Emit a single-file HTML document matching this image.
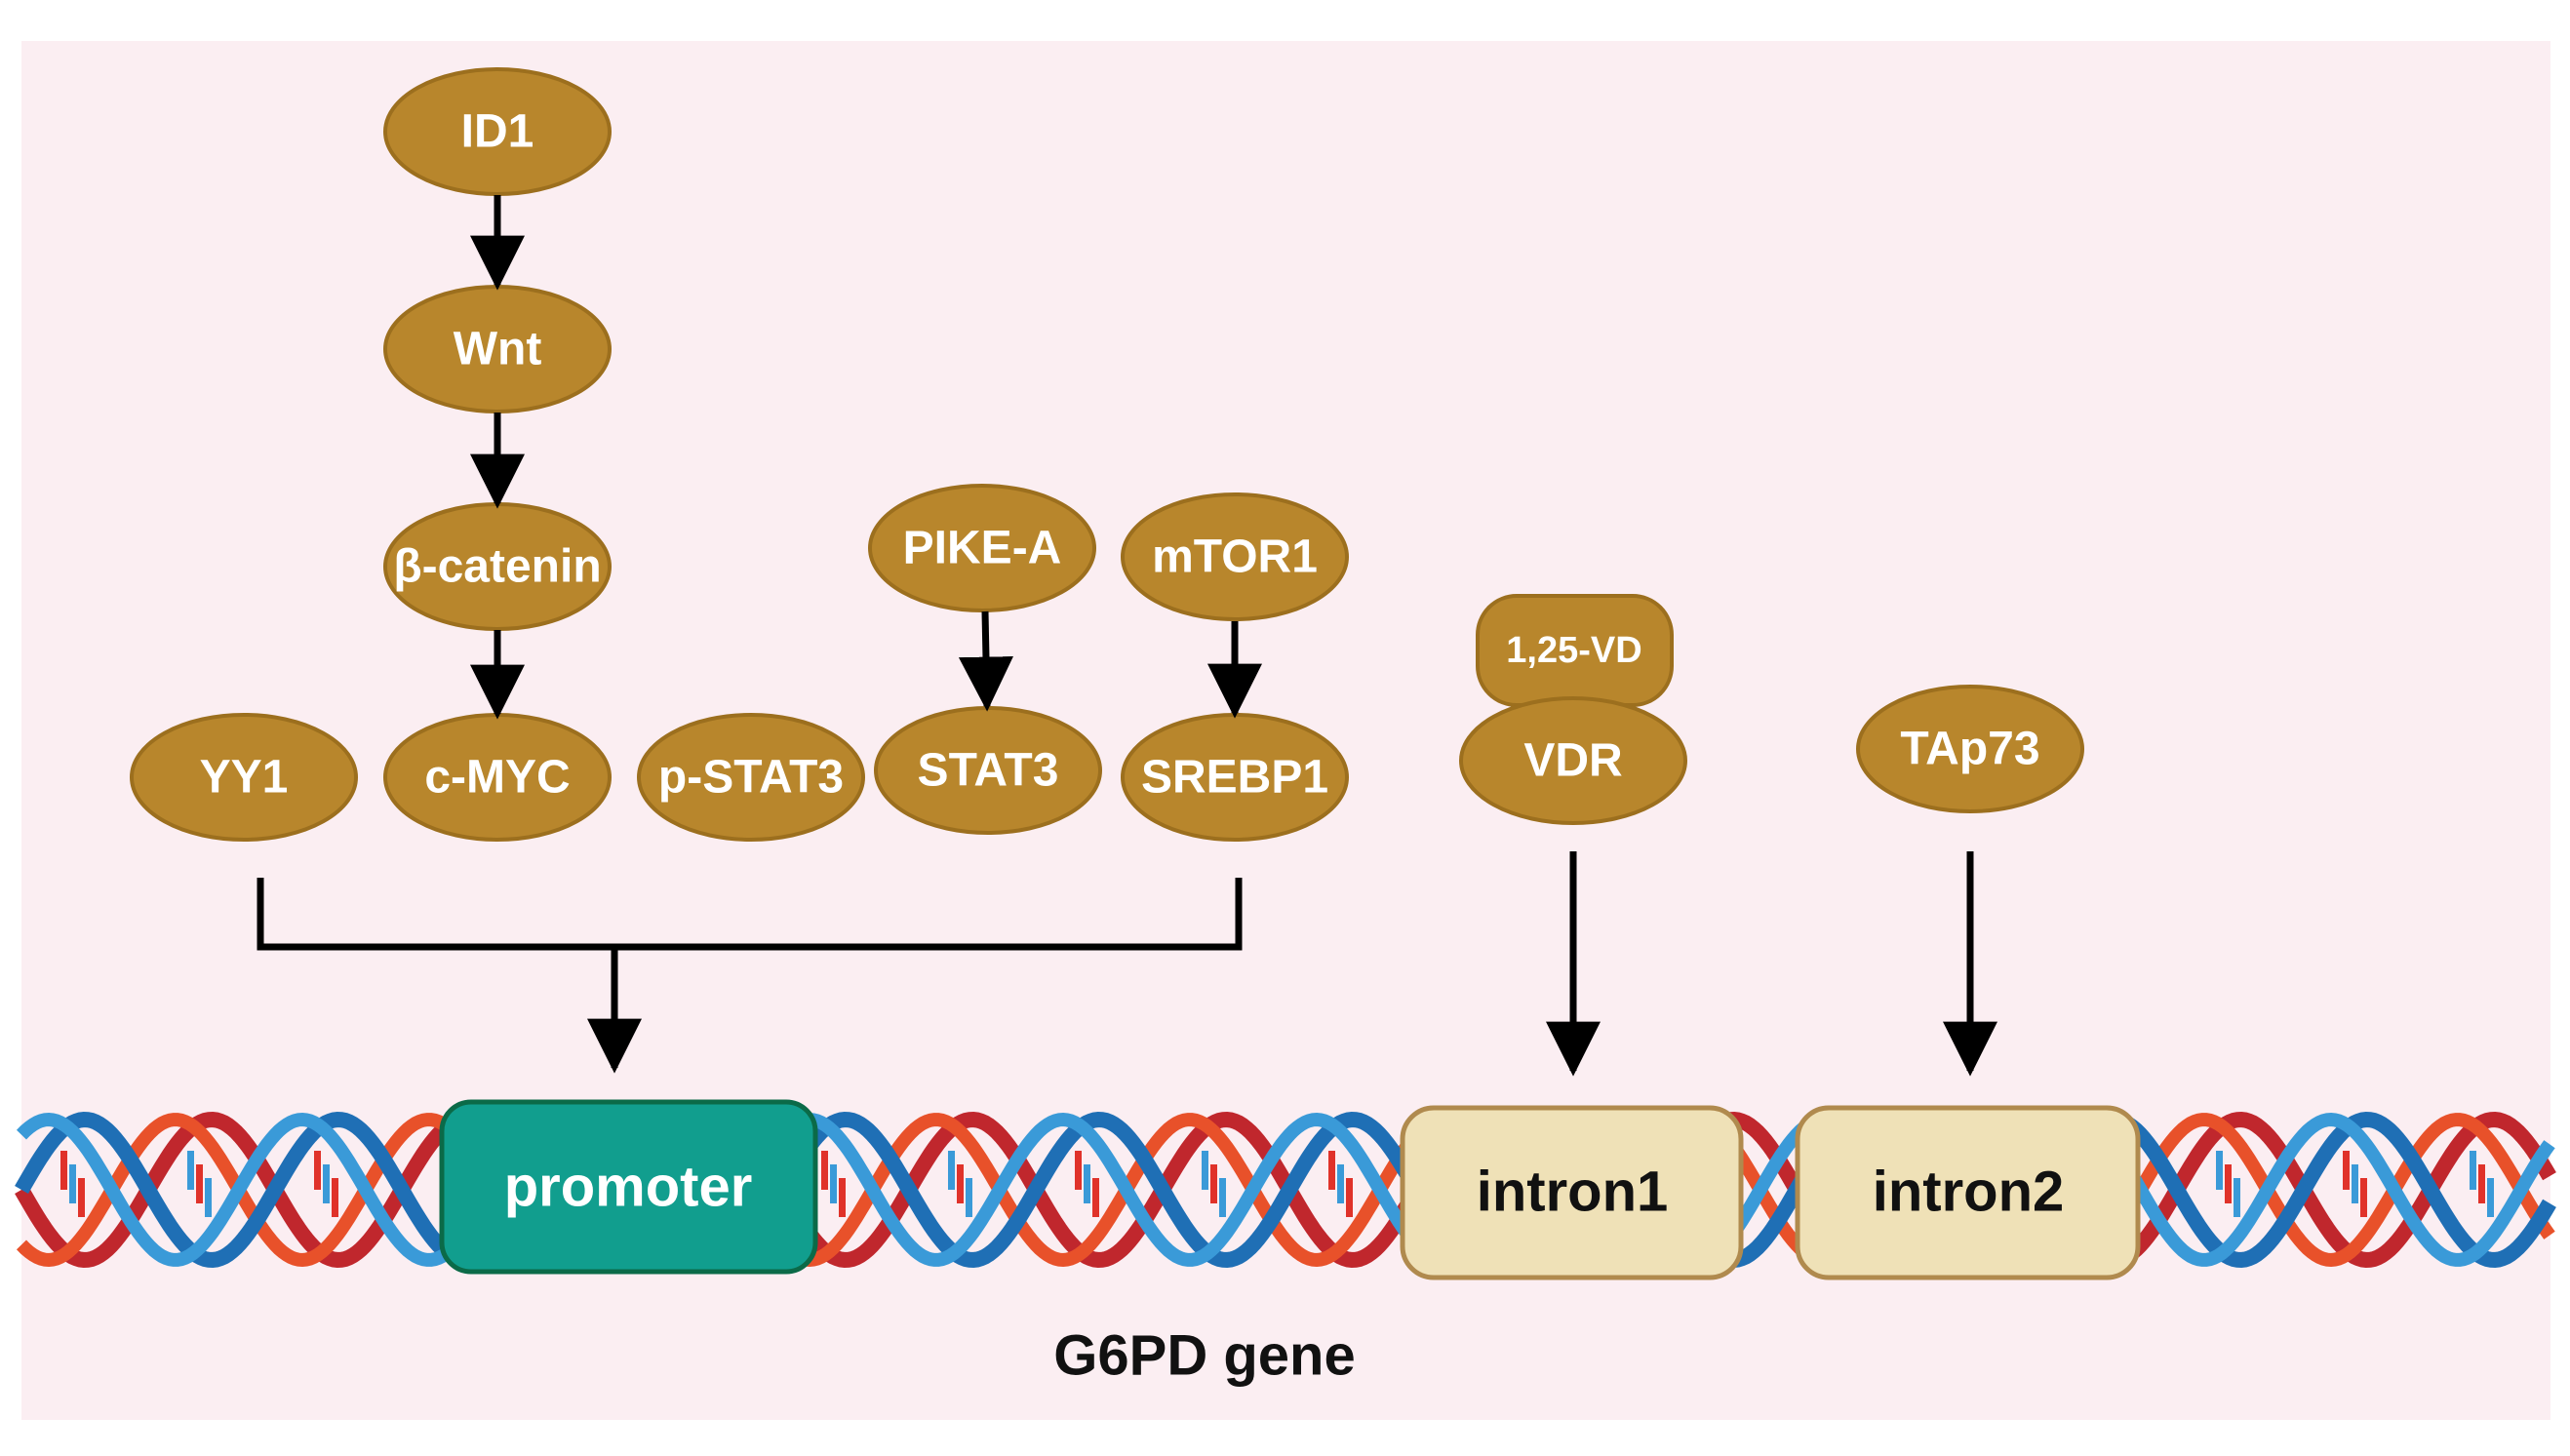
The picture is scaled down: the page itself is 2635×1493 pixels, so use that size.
<!DOCTYPE html>
<html><head><meta charset="utf-8"><style>
html,body{margin:0;padding:0;background:#fff;}
svg{display:block;}
.t{font-family:"Liberation Sans Narrow","Liberation Sans",sans-serif;font-weight:bold;fill:#fff;text-anchor:middle;dominant-baseline:central;}
</style></head><body>
<svg id="s" width="2635" height="1493" viewBox="0 0 2635 1493" xmlns="http://www.w3.org/2000/svg">
<defs><marker id="ah" viewBox="0 0 10 10" refX="9" refY="5" markerWidth="8" markerHeight="8" orient="auto" markerUnits="strokeWidth"><path d="M0,0 L10,5 L0,10 z" fill="#000"/></marker></defs>
<rect x="22" y="42" width="2593" height="1414" fill="#fbeef2"/>
<g id="dna"></g>
<g fill="#b8862c" stroke="#9c6f1e" stroke-width="4">
<ellipse cx="510" cy="135" rx="115" ry="64"/>
<ellipse cx="510" cy="358" rx="115" ry="64"/>
<ellipse cx="510" cy="581" rx="115" ry="64"/>
<ellipse cx="510" cy="797" rx="115" ry="64"/>
<ellipse cx="250" cy="797" rx="115" ry="64"/>
<ellipse cx="770" cy="797" rx="115" ry="64"/>
<ellipse cx="1013" cy="790" rx="115" ry="64"/>
<ellipse cx="1007" cy="562" rx="115" ry="64"/>
<ellipse cx="1266" cy="571" rx="115" ry="64"/>
<ellipse cx="1266" cy="797" rx="115" ry="64"/>
<rect x="1515" y="611" width="199" height="112" rx="40"/>
<ellipse cx="1613" cy="780" rx="115" ry="64"/>
<ellipse cx="2020" cy="768" rx="115" ry="64"/>
</g>
<g>
<text class="t" font-size="48" x="510" y="135">ID1</text>
<text class="t" font-size="48" x="510" y="358">Wnt</text>
<text class="t" font-size="48" x="510" y="581">β-catenin</text>
<text class="t" font-size="48" x="510" y="797">c-MYC</text>
<text class="t" font-size="48" x="250" y="797">YY1</text>
<text class="t" font-size="48" x="770" y="797">p-STAT3</text>
<text class="t" font-size="48" x="1013" y="790">STAT3</text>
<text class="t" font-size="48" x="1007" y="562">PIKE-A</text>
<text class="t" font-size="48" x="1266" y="571">mTOR1</text>
<text class="t" font-size="48" x="1266" y="797">SREBP1</text>
<text class="t" x="1614" y="667" font-size="38">1,25-VD</text>
<text class="t" font-size="48" x="1613" y="780">VDR</text>
<text class="t" font-size="48" x="2020" y="768">TAp73</text>
</g>
<g stroke="#000" stroke-width="7" fill="none">
<line x1="510" y1="200" x2="510" y2="292" marker-end="url(#ah)"/>
<line x1="510" y1="423" x2="510" y2="516" marker-end="url(#ah)"/>
<line x1="510" y1="646" x2="510" y2="732" marker-end="url(#ah)"/>
<line x1="1010" y1="627" x2="1012" y2="724" marker-end="url(#ah)"/>
<line x1="1266" y1="637" x2="1266" y2="731" marker-end="url(#ah)"/>
<polyline points="267,900 267,971 1270,971 1270,900"/>
<line x1="630" y1="971" x2="630" y2="1095" marker-end="url(#ah)"/>
<line x1="1613" y1="873" x2="1613" y2="1098" marker-end="url(#ah)"/>
<line x1="2020" y1="873" x2="2020" y2="1098" marker-end="url(#ah)"/>
</g>
<rect x="453" y="1130" width="383" height="174" rx="30" fill="#119e8e" stroke="#0b6a48" stroke-width="5"/>
<rect x="1438" y="1136" width="347" height="174" rx="32" fill="#efe1b7" stroke="#b08a4e" stroke-width="5"/>
<rect x="1843" y="1136" width="349" height="174" rx="32" fill="#efe1b7" stroke="#b08a4e" stroke-width="5"/>
<text x="644" y="1217" font-family="Liberation Sans" font-weight="bold" font-size="58" fill="#fff" text-anchor="middle" dominant-baseline="central">promoter</text>
<text x="1612" y="1222" font-family="Liberation Sans" font-weight="bold" font-size="58" fill="#111" text-anchor="middle" dominant-baseline="central">intron1</text>
<text x="2018" y="1222" font-family="Liberation Sans" font-weight="bold" font-size="58" fill="#111" text-anchor="middle" dominant-baseline="central">intron2</text>
<text x="1235" y="1390" font-family="Liberation Sans" font-weight="bold" font-size="58" fill="#111" text-anchor="middle" dominant-baseline="central">G6PD gene</text>
</svg>
<script>
(function(){
var g=document.getElementById('dna'),ns='http://www.w3.org/2000/svg';
var x0=22,x1=2615,cy=1220,A=72,P=260;
function path(ph,col,w){var d='';for(var x=x0;x<=x1;x+=4){var y=cy+A*Math.sin((x-x0)/P*2*Math.PI+ph);d+=(x==x0?'M':'L')+x+','+y.toFixed(1);}
var p=document.createElementNS(ns,'path');p.setAttribute('d',d);p.setAttribute('stroke',col);p.setAttribute('stroke-width',w);p.setAttribute('fill','none');g.appendChild(p);}
for(var x=x0+40;x<x1;x+=130){var cols=['#e0322a','#3a9ad8'];for(var k=0;k<3;k++){var r=document.createElementNS(ns,'rect');r.setAttribute('x',x+k*9);r.setAttribute('y',cy-40+k*14);r.setAttribute('width',7);r.setAttribute('height',40);r.setAttribute('fill',cols[(k+Math.round(x/130))%2]);g.appendChild(r);}}
path(0,'#c0272d',16);path(0.9,'#e8512a',14);path(Math.PI,'#1f6fb5',16);path(Math.PI+0.9,'#3a9ad8',14);
})();
</script>
</body></html>
